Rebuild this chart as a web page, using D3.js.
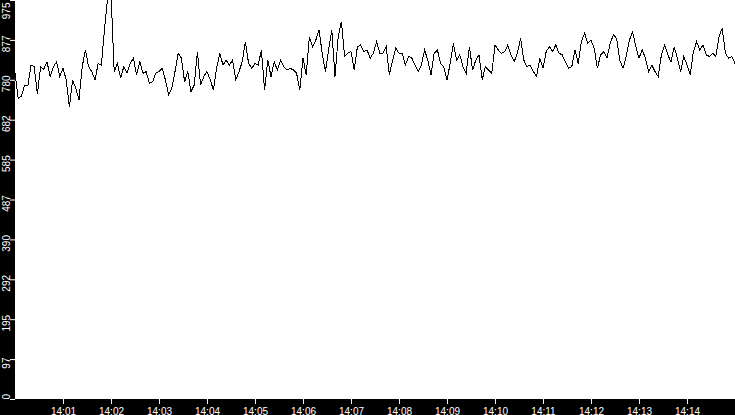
<!DOCTYPE html>
<html>
<head>
<meta charset="utf-8">
<script src="https://cdn.jsdelivr.net/npm/d3@7"></script>
<style>
  html, body { margin: 0; padding: 0; background: #000; overflow: hidden; }
  svg { display: block; }
</style>
</head>
<body>
<div class="chart"></div>
<script>
// samples every 4 seconds starting at 14:00:00
const startTime = new Date(2020, 0, 1, 14, 0, 0);
const endTime = new Date(2020, 0, 1, 14, 15, 0);
const sampleSeconds = 4;
const values = [
  797, 735, 740, 767, 765, 816, 812, 745, 812, 806,
  824, 788, 812, 824, 788, 808, 780, 714, 780, 759,
  731, 812, 853, 812, 800, 780, 820, 816, 906, 985,
  990, 800, 820, 784, 812, 796, 820, 833, 792, 824,
  796, 800, 771, 775, 796, 800, 808, 780, 743, 759,
  800, 845, 833, 775, 800, 751, 767, 848, 767, 788,
  800, 780, 755, 808, 845, 816, 828, 816, 828, 780,
  800, 824, 873, 820, 808, 820, 816, 853, 755, 828,
  788, 824, 804, 828, 812, 804, 808, 804, 796, 755,
  833, 792, 885, 861, 877, 902, 845, 800, 853, 902,
  788, 885, 922, 837, 845, 849, 804, 861, 865, 849,
  853, 833, 845, 873, 845, 845, 861, 792, 828, 857,
  845, 845, 816, 837, 833, 816, 800, 816, 853, 828,
  792, 845, 853, 820, 812, 780, 820, 869, 828, 841,
  812, 796, 861, 804, 828, 841, 780, 812, 804, 796,
  865, 853, 845, 849, 865, 841, 824, 845, 881, 828,
  812, 816, 800, 788, 833, 808, 849, 861, 849, 865,
  845, 841, 824, 808, 812, 853, 820, 873, 894, 869,
  877, 857, 808, 841, 849, 833, 869, 890, 881, 828,
  808, 837, 877, 897, 861, 833, 853, 833, 800, 816,
  800, 788, 841, 865, 841, 824, 861, 833, 800, 837,
  816, 792, 849, 873, 853, 865, 841, 837, 845, 837,
  885, 906, 845, 833, 837, 820
];
const yTicks = [0, 97.5, 195, 292.5, 390, 487.5, 585, 682.5, 780, 877.5, 975];
const xTickMinutes = [1, 2, 3, 4, 5, 6, 7, 8, 9, 10, 11, 12, 13, 14];

const data = values.map((v, i) => ({
  t: new Date(startTime.getTime() + i * sampleSeconds * 1000),
  v: v
}));

// size of the chart
const w = 735, h = 415;
const margin = { top: 0, right: 0, bottom: 16, left: 15 };

const xScale = d3.scaleTime()
  .domain([startTime, endTime])
  .range([margin.left, w - margin.right]);

const yScale = d3.scaleLinear()
  .domain([0, 975])
  .range([h - margin.bottom, margin.top]);

const svg = d3.select("div.chart")
  .append("svg")
  .attr("width", w)
  .attr("height", h)
  .style("font-family", "'DejaVu Sans', sans-serif");

svg.append("rect")
  .attr("width", w)
  .attr("height", h)
  .attr("fill", "#000");

// white plot area
svg.append("rect")
  .attr("x", margin.left)
  .attr("y", margin.top)
  .attr("width", w - margin.left - margin.right)
  .attr("height", h - margin.top - margin.bottom)
  .attr("fill", "#fff");

svg.append("clipPath")
  .attr("id", "plot-clip")
  .append("rect")
  .attr("x", margin.left)
  .attr("y", margin.top)
  .attr("width", w - margin.left - margin.right)
  .attr("height", h - margin.top - margin.bottom);

// line
const line = d3.line()
  .x(d => xScale(d.t))
  .y(d => yScale(d.v));

svg.append("path")
  .datum(data)
  .attr("clip-path", "url(#plot-clip)")
  .attr("d", line)
  .attr("fill", "none")
  .attr("stroke", "#000")
  .attr("stroke-width", 1)
  .attr("shape-rendering", "crispEdges");

// x axis
const xAxis = d3.axisBottom(xScale)
  .tickValues(xTickMinutes.map(m => new Date(2020, 0, 1, 14, m, 0)))
  .tickFormat(d3.timeFormat("%H:%M"))
  .tickSize(5)
  .tickSizeOuter(0);

const gx = svg.append("g")
  .attr("id", "x-axis")
  .attr("transform", "translate(0," + (h - margin.bottom) + ")")
  .call(xAxis);
gx.select(".domain").remove();
gx.selectAll("line").attr("stroke", "#fff");
gx.selectAll("text")
  .attr("fill", "#fff")
  .attr("y", 15.5)
  .attr("dy", 0)
  .style("font-size", "10px");

// y axis with rotated labels
const yAxis = d3.axisLeft(yScale)
  .tickValues(yTicks)
  .tickFormat(d => Math.floor(d))
  .tickSize(5)
  .tickSizeOuter(0);

const gy = svg.append("g")
  .attr("id", "y-axis")
  .attr("transform", "translate(" + margin.left + ",0)")
  .call(yAxis);
gy.select(".domain").remove();
gy.selectAll("line").attr("stroke", "#fff");
gy.selectAll("text")
  .attr("fill", "#fff")
  .attr("transform", "rotate(-90)")
  .attr("y", -5.5)
  .attr("dy", 0)
  .attr("x", (d, i) => i === 0 ? 0 : (i === yTicks.length - 1 ? -2 : -3.5))
  .attr("text-anchor", (d, i) => i === 0 ? "start" : (i === yTicks.length - 1 ? "end" : "middle"))
  .style("font-size", "10px");
</script>
</body>
</html>
